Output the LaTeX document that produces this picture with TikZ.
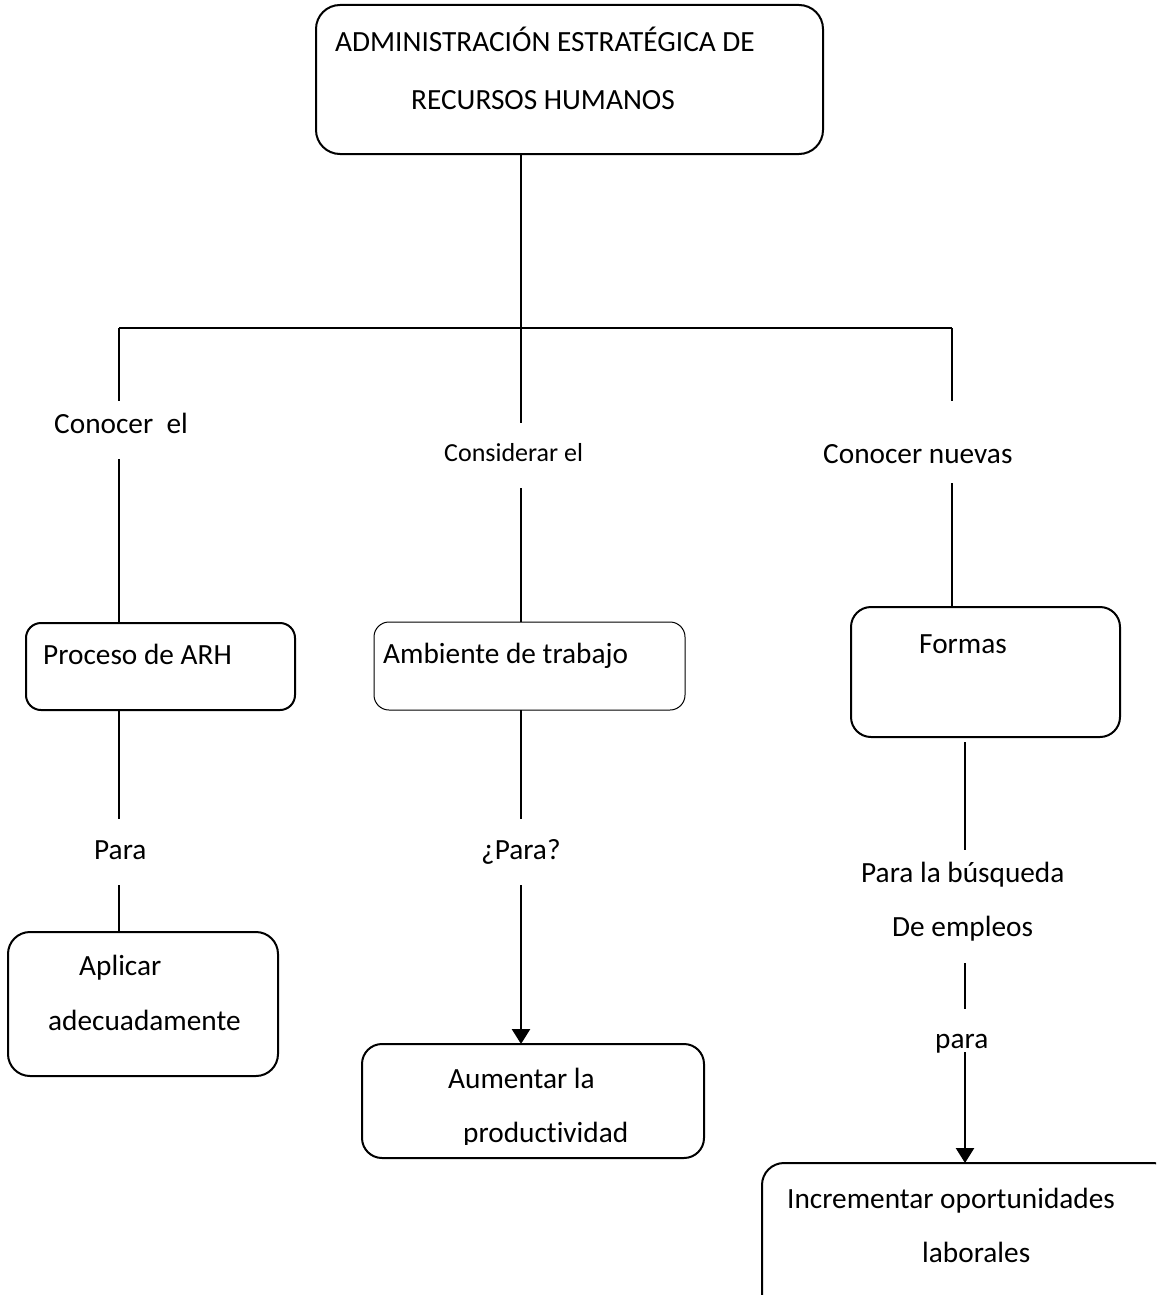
\documentclass[tikz,border=0pt]{standalone}
\usepackage{fontspec}
\setmainfont[Ligatures=NoCommon]{Carlito}
\usetikzlibrary{arrows.meta}

\tikzset{
  box/.style={draw, line width=2pt, rounded corners=#1, inner sep=0pt, outer sep=0pt},
  box/.default=15pt,
  txt/.style={inner sep=0pt, anchor=base west, font=\fontsize{29.3}{35}\selectfont},
  smalltxt/.style={inner sep=0pt, anchor=base west, font=\fontsize{26}{31}\selectfont},
  conn/.style={line width=2pt},
  arrowconn/.style={line width=2.6pt, -{Triangle[length=15pt,width=18pt]}}
}

\begin{document}
\begin{tikzpicture}[x=1pt, y=-1pt]
\useasboundingbox (0,0) rectangle (1156,1295);
\clip (0,0) rectangle (1156,1295);
\fill[white] (0,0) rectangle (1156,1295);

% boxes
\node[box=24pt, minimum width=507pt, minimum height=149pt] (top) at (569.5,79.5) {};
\node[box=15pt, minimum width=269pt, minimum height=87pt] (proc) at (160.5,666.5) {};
\node[box=15pt, line width=1pt, minimum width=311pt, minimum height=88pt] (amb) at (529.5,666) {};
\node[box=20pt, minimum width=269pt, minimum height=130pt] (formas) at (985.5,672) {};
\node[box=22pt, minimum width=270pt, minimum height=144pt] (aplic) at (143,1004) {};
\node[box=20pt, minimum width=342pt, minimum height=114pt] (aum) at (533,1101) {};
\node[box=22pt, minimum width=413pt, minimum height=160pt] (incr) at (968.5,1243) {};

% box texts
\node[txt] (t1) at (335,52) {ADMINISTRACIÓN ESTRATÉGICA DE};
\node[txt] (t2) at (411,110) {RECURSOS HUMANOS};
\node[txt] (tproc) at (43,664) {Proceso de ARH};
\node[txt] (tamb) at (383,663) {Ambiente de trabajo};
\node[txt] (tformas) at (919,653) {Formas};
\node[txt] (taplic1) at (79,975) {Aplicar};
\node[txt] (taplic2) at (48,1030) {adecuadamente};
\node[txt] (taum1) at (448,1088) {Aumentar la};
\begin{scope}
  \clip (362,1044) rectangle (704,1144);
  % the kern keeps t and i as separate glyphs
  \node[txt] (taum2) at (463,1142) {product\kern0pt ividad};
\end{scope}
\node[txt] (tincr1) at (787,1208) {Incrementar oportunidades};
\node[txt] (tincr2) at (922,1262) {laborales};

% connector labels
\node[txt] (lconocer) at (54,433) {Conocer\ \ el};
\node[smalltxt] (lconsid) at (444,461) {Considerar el};
\node[txt] (lnuevas) at (823,463) {Conocer nuevas};
\node[txt] (lpara1) at (94,859) {Para};
\node[txt] (lpara2) at (481,859) {¿Para?};
\node[txt] (lbusq1) at (861,882) {Para la búsqueda};
\node[txt] (lbusq2) at (892,936) {De empleos};
\node[txt] (lpara3) at (935,1048) {para};

% junction and gap ends
\coordinate (hub) at (521,328);
\coordinate (hl) at (119,328);
\coordinate (hr) at (952,328);
\coordinate (a1) at (119,401);
\coordinate (a2) at (119,459);
\coordinate (a3) at (119,819);
\coordinate (a4) at (119,885);
\coordinate (b1) at (521,423);
\coordinate (b2) at (521,488);
\coordinate (b3) at (521,819);
\coordinate (b4) at (521,885);
\coordinate (c1) at (952,401);
\coordinate (c2) at (952,483);
\coordinate (c3) at (965,742);
\coordinate (c4) at (965,850);
\coordinate (c5) at (965,963);
\coordinate (c6) at (965,1009);
\coordinate (c7) at (965,1052);

% connectors
\draw[conn] (top.south -| hub) -- (hub);
\draw[conn] (hl) -- (hr);
\draw[conn] (hl) -- (a1);
\draw[conn] (a2) -- (a2 |- proc.north);
\draw[conn] (a3 |- proc.south) -- (a3);
\draw[conn] (a4) -- (a4 |- aplic.north);
\draw[conn] (hub) -- (b1);
\draw[conn] (b2) -- (b2 |- amb.north);
\draw[conn] (b3 |- amb.south) -- (b3);
\draw[arrowconn] (b4) -- (b4 |- aum.north);
\draw[conn] (hr) -- (c1);
\draw[conn] (c2) -- (c2 |- formas.north);
\draw[conn] (c3) -- (c4);
\draw[conn] (c5) -- (c6);
\draw[arrowconn] (c7) -- (c7 |- incr.north);
\end{tikzpicture}
\end{document}
